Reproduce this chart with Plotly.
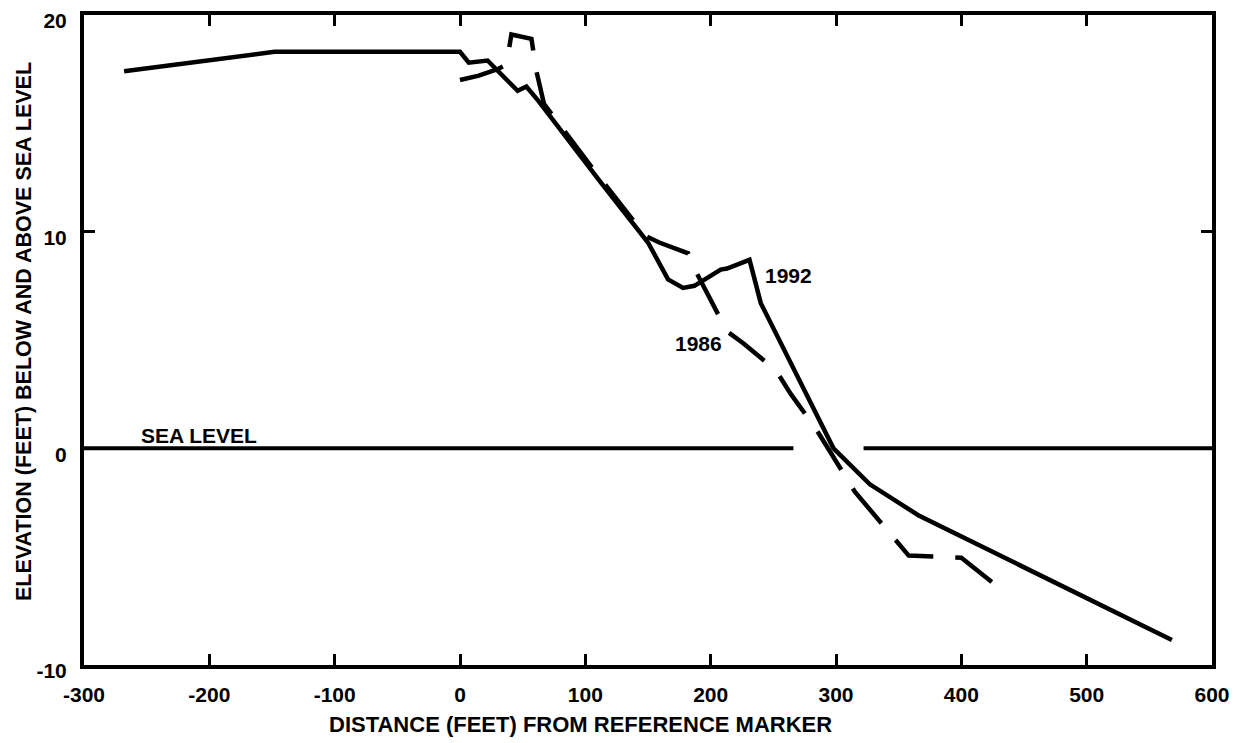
import plotly.graph_objects as go

# Profile surveyed in 1992 (solid)
x_1992 = [-268, -148, 0, 7, 22, 29, 37, 46, 53, 63, 112, 150, 166, 178, 187, 208, 213, 226, 231, 240, 298, 327, 366, 568]
y_1992 = [17.4, 18.3, 18.3, 17.8, 17.9, 17.5, 17.0, 16.5, 16.7, 16.0, 12.3, 9.5, 7.8, 7.4, 7.5, 8.25, 8.3, 8.6, 8.7, 6.7, 0.0, -1.66, -3.1, -8.85]

# Profile surveyed in 1986 (dashed)
x_1986 = [0, 15, 30, 37, 41, 57, 61, 67, 110, 148, 159, 182, 187, 213, 226, 252, 264, 284, 315, 358, 400, 425]
y_1986 = [17.0, 17.2, 17.5, 17.7, 19.1, 18.9, 17.4, 15.9, 12.6, 9.8, 9.5, 9.0, 8.3, 5.4, 4.85, 3.6, 2.5, 0.9, -2.0, -4.95, -5.05, -6.2]

# Sea level reference line (with a gap where the profiles cross)
sea_left_x = [-300, 266]
sea_right_x = [322, 600]
sea_level = 0

x_ticks = [-300, -200, -100, 0, 100, 200, 300, 400, 500, 600]
y_ticks = [-10, 0, 10, 20]

FONT = "Liberation Sans, Arial, Helvetica, sans-serif"


def f(size):
    return dict(family=FONT, size=size, color="black", weight="bold")


fig = go.Figure()
fig.add_trace(go.Scatter(x=sea_left_x, y=[sea_level] * 2, mode="lines",
                         line=dict(color="black", width=4), showlegend=False))
fig.add_trace(go.Scatter(x=sea_right_x, y=[sea_level] * 2, mode="lines",
                         line=dict(color="black", width=4), showlegend=False))
fig.add_trace(go.Scatter(x=x_1986, y=y_1986, mode="lines", name="1986",
                         line=dict(color="black", width=4.5, dash="45px,22px"),
                         showlegend=False))
fig.add_trace(go.Scatter(x=x_1992, y=y_1992, mode="lines", name="1992",
                         line=dict(color="black", width=4.5), showlegend=False))

fig.add_annotation(x=262, y=7.97, text="1992", showarrow=False, font=f(21))
fig.add_annotation(x=190, y=4.84, text="1986", showarrow=False, font=f(21))
fig.add_annotation(x=-208, y=0.6, text="SEA LEVEL", showarrow=False, font=f(21))

# Axis titles (placed as in the original drawing)
fig.add_annotation(xref="paper", yref="paper", x=0.4406, y=-0.0908,
                   xanchor="center", yanchor="middle", showarrow=False,
                   text="DISTANCE (FEET) FROM REFERENCE MARKER", font=f(22))
fig.add_annotation(xref="paper", yref="paper", x=-0.0532, y=0.5138,
                   xanchor="center", yanchor="middle", showarrow=False,
                   textangle=-90,
                   text="ELEVATION (FEET) BELOW AND ABOVE SEA LEVEL", font=f(21.5))

axis_common = dict(
    showgrid=False, zeroline=False,
    showline=True, linecolor="black", linewidth=4, mirror="ticks",
    ticks="inside", ticklen=11, tickwidth=3, tickcolor="black",
    tickfont=f(21), ticklabeloverflow="allow",
)

fig.update_xaxes(range=[-300, 600], tickvals=x_ticks,
                 ticktext=[str(v) for v in x_ticks],
                 ticklabelstandoff=8, **axis_common)
fig.update_yaxes(range=[-10, 20], tickvals=y_ticks,
                 ticktext=[str(v) for v in y_ticks],
                 ticklabelstandoff=9, ticklabelshift=6, **axis_common)

# The page adds an 8px body margin; the figure is offset accordingly.
fig.update_layout(
    width=1230, height=735,
    margin=dict(l=76, r=26, t=7, b=78, autoexpand=False),
    paper_bgcolor="white", plot_bgcolor="white",
    font=dict(family=FONT, color="black"),
)

fig.write_html("out.html")
